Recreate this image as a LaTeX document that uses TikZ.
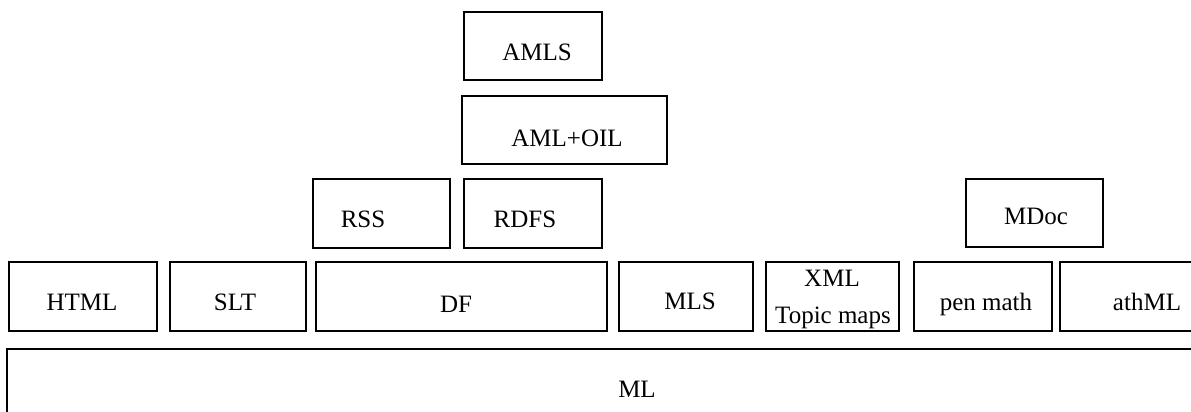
\documentclass[tikz,border=0pt]{standalone}
\usepackage{fontspec}
\setmainfont{Liberation Serif}
\begin{document}
\begin{tikzpicture}[x=1pt,y=-1pt,
  box/.style={draw, line width=1.6pt, rectangle, inner sep=0pt, outer sep=0pt, anchor=north west},
  lbl/.style={anchor=base, inner sep=0pt, font=\fontsize{25}{30}\selectfont}]
\useasboundingbox (0,0) rectangle (1191,412);
\clip (0,0) rectangle (1191,412);

% upper stack
\node[box, minimum width=138pt, minimum height=68pt] (amls) at (464,12) {};
\node[lbl] (amlst) at (537,60) {AMLS};
\node[box, minimum width=205pt, minimum height=68pt] (amloil) at (462,96) {};
\node[lbl] (amloilt) at (567,146) {AML+OIL};
\node[box, minimum width=137pt, minimum height=69pt] (rss) at (313,179) {};
\node[lbl] (rsst) at (363,227) {RSS};
\node[box, minimum width=138pt, minimum height=69pt] (rdfs) at (464,179) {};
\node[lbl] (rdfst) at (525,227) {RDFS};
\node[box, minimum width=137pt, minimum height=68pt] (mdoc) at (966,179) {};
\node[lbl] (mdoct) at (1036,224) {MDoc};

% middle row
\node[box, minimum width=148pt, minimum height=69pt] (html) at (9,262) {};
\node[lbl] (htmlt) at (82,310) {HTML};
\node[box, minimum width=136pt, minimum height=69pt] (slt) at (170,262) {};
\node[lbl] (sltt) at (235,310) {SLT};
\node[box, minimum width=291pt, minimum height=69pt] (df) at (316,262) {};
\node[lbl] (dft) at (456,312) {DF};
\node[box, minimum width=134pt, minimum height=69pt] (mls) at (619,262) {};
\node[lbl] (mlst) at (690,309) {MLS};
\node[box, minimum width=133pt, minimum height=69pt] (xml) at (766,262) {};
\node[lbl] (xmlt) at (832,286) {XML};
\node[lbl] (topict) at (833,323) {Topic maps};
\node[box, minimum width=138pt, minimum height=69pt] (penmath) at (914,262) {};
\node[lbl] (penmatht) at (986,310) {pen math};
\node[box, minimum width=160pt, minimum height=69pt] (athml) at (1060,262) {};
\node[lbl] (athmlt) at (1147,310) {athML};

% base layer
\node[box, minimum width=1200pt, minimum height=90pt] (ml) at (7,349) {};
\node[lbl] (mlt) at (637,397) {ML};
\end{tikzpicture}
\end{document}
